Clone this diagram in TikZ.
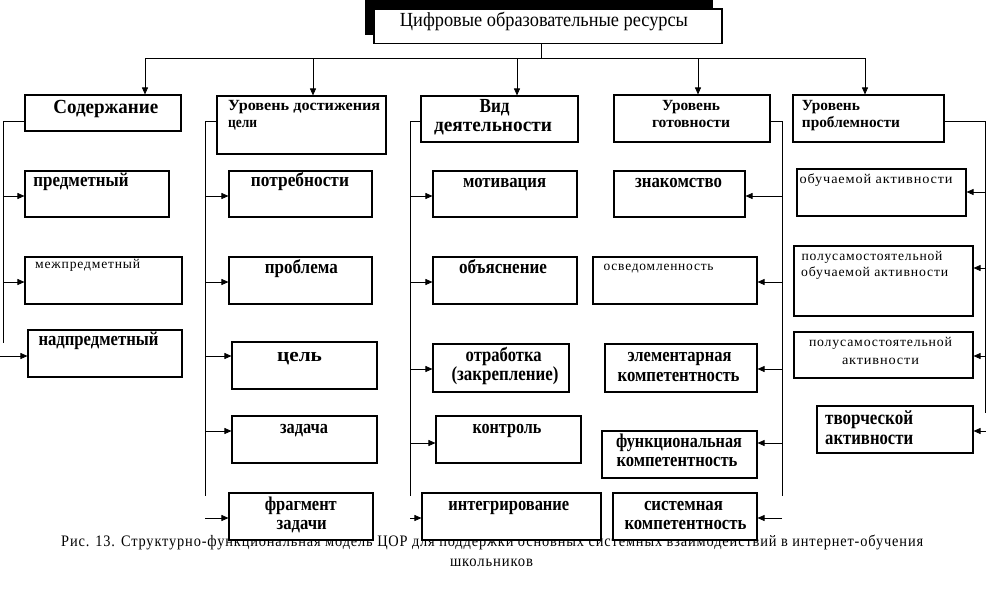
\documentclass[tikz,border=0pt]{standalone}
\usepackage{fontspec}
\setmainfont{Liberation Serif}
\newfontfamily\spcfont[LetterSpace=6]{Liberation Serif}
\usetikzlibrary{arrows.meta}
\newcommand\fitw[2]{\resizebox{#1pt}{\height}{#2}}
\newcommand\mkbox[5]{\node[rbox, minimum width={(#4-#2)*1pt}, minimum height={(#5-#3)*1pt}] (#1) at ({(#2+#4)/2},{(#3+#5)/2}) {};}
\begin{document}
\begin{tikzpicture}[x=1pt,y=-1pt,
  rbox/.style={draw, line width=1.1pt, fill=white, inner sep=0pt},
  conn/.style={line width=0.85pt},
  arr/.style={conn, -{Triangle[length=7pt,width=6pt]}},
  bt/.style={font=\fontsize{19.5}{21}\selectfont\bfseries, inner sep=0pt, anchor=base},
  btl/.style={bt, anchor=base west},
  bh/.style={font=\fontsize{20}{22}\selectfont\bfseries, inner sep=0pt, anchor=base},
  bhl/.style={bh, anchor=base west},
  bu/.style={font=\fontsize{15.5}{17}\selectfont\bfseries, inner sep=0pt, anchor=base},
  bul/.style={bu, anchor=base west},
  smt/.style={font=\fontsize{13.5}{15}\selectfont\spcfont, inner sep=0pt, anchor=base},
  smtl/.style={smt, anchor=base west},
  captx/.style={font=\fontsize{16}{18}\selectfont\spcfont, inner sep=0pt, anchor=base},
  ttl/.style={font=\fontsize{20}{22}\selectfont, inner sep=0pt, anchor=base}
]
\useasboundingbox (0,0) rectangle (986,614);
\fill[white] (0,0) rectangle (986,614);

% caption (under the boxes)
\node[captx, anchor=base west] (cap1) at (61,546.7) {\fitw{862}{Рис. 13. Структурно-функциональная модель ЦОР для поддержки основных системных взаимодействий в интернет-обучения}};
\node[captx] (cap2) at (491.5,566) {\fitw{83}{школьников}};

% title with shadow
\fill[black] (365,0) rectangle (713,35);
\mkbox{top}{374}{9}{722}{43.5}
\node[ttl] (ttitle) at (544,26) {\fitw{288}{Цифровые образовательные ресурсы}};

% headers
\mkbox{h1}{25}{95}{181}{131}
\mkbox{h2}{217}{96}{386}{154}
\mkbox{h3}{421}{96}{578}{142}
\mkbox{h4}{614}{95}{770}{142}
\mkbox{h5}{793}{95}{944}{142}

% top distribution
\coordinate (tj) at (541.7,58);
\coordinate (tl) at (145,58);
\coordinate (tr) at (865,58);
\coordinate (t2) at (313,58);
\coordinate (t3) at (517,58);
\coordinate (t4) at (698,58);
\draw[conn] (tj |- top.south) -- (tj);
\draw[conn] (tl) -- (tr);
\draw[arr] (tl) -- (tl |- h1.north);
\draw[arr] (t2) -- (t2 |- h2.north);
\draw[arr] (t3) -- (t3 |- h3.north);
\draw[arr] (t4) -- (t4 |- h4.north);
\draw[arr] (tr) -- (tr |- h5.north);

% column 1 boxes
\mkbox{a1}{25}{171}{169}{217}
\mkbox{a2}{25}{257}{182}{304}
\mkbox{a3}{28}{330}{182}{377}
% column 2
\mkbox{b1}{229}{171}{372}{217}
\mkbox{b2}{229}{257}{372}{304}
\mkbox{b3}{232}{342}{377}{389}
\mkbox{b4}{232}{416}{377}{463}
\mkbox{b5}{229}{493}{373}{540}
% column 3
\mkbox{c1}{433}{171}{577}{217}
\mkbox{c2}{433}{257}{577}{304}
\mkbox{c3}{433}{344}{569}{392}
\mkbox{c4}{436}{416}{581}{463}
\mkbox{c5}{422}{493}{601}{540}
% column 4
\mkbox{d1}{614}{171}{745}{217}
\mkbox{d2}{593}{257}{757}{304}
\mkbox{d3}{605}{344}{757}{392}
\mkbox{d4}{602}{431}{757}{478}
\mkbox{d5}{613}{493}{757}{540}
% column 5
\mkbox{e1}{797}{169}{966}{216}
\mkbox{e2}{794}{246}{973}{316}
\mkbox{e3}{794}{332}{973}{378}
\mkbox{e4}{817}{406}{973}{453}

% column 1 connectors
\coordinate (k1) at (3,121); \coordinate (k1e) at (3,343);
\draw[conn] (k1 -| h1.west) -- (k1) -- (k1e);
\coordinate (p11) at (3,196); \draw[arr] (p11) -- (p11 -| a1.west);
\coordinate (p12) at (3,282); \draw[arr] (p12) -- (p12 -| a2.west);
\coordinate (p13) at (0,356); \draw[arr] (p13) -- (p13 -| a3.west);
% column 2 connectors
\coordinate (k2) at (205,121); \coordinate (k2e) at (205,496);
\draw[conn] (k2 -| h2.west) -- (k2) -- (k2e);
\coordinate (p21) at (205,196); \draw[arr] (p21) -- (p21 -| b1.west);
\coordinate (p22) at (205,282); \draw[arr] (p22) -- (p22 -| b2.west);
\coordinate (p23) at (205,356); \draw[arr] (p23) -- (p23 -| b3.west);
\coordinate (p24) at (205,431); \draw[arr] (p24) -- (p24 -| b4.west);
\coordinate (p25) at (205,518); \draw[arr] (p25) -- (p25 -| b5.west);
% column 3 connectors
\coordinate (k3) at (410,121); \coordinate (k3e) at (410,496);
\draw[conn] (k3 -| h3.west) -- (k3) -- (k3e);
\coordinate (p31) at (410,196); \draw[arr] (p31) -- (p31 -| c1.west);
\coordinate (p32) at (410,282); \draw[arr] (p32) -- (p32 -| c2.west);
\coordinate (p33) at (410,369); \draw[arr] (p33) -- (p33 -| c3.west);
\coordinate (p34) at (410,443); \draw[arr] (p34) -- (p34 -| c4.west);
\coordinate (p35) at (410,518); \draw[arr] (p35) -- (p35 -| c5.west);
% column 4 connectors
\coordinate (k4) at (782,121); \coordinate (k4e) at (782,496);
\draw[conn] (k4 -| h4.east) -- (k4) -- (k4e);
\coordinate (p41) at (782,196); \draw[arr] (p41) -- (p41 -| d1.east);
\coordinate (p42) at (782,282); \draw[arr] (p42) -- (p42 -| d2.east);
\coordinate (p43) at (782,369); \draw[arr] (p43) -- (p43 -| d3.east);
\coordinate (p44) at (782,443); \draw[arr] (p44) -- (p44 -| d4.east);
\coordinate (p45) at (782,518); \draw[arr] (p45) -- (p45 -| d5.east);
% column 5 connectors
\coordinate (k5) at (985,121); \coordinate (k5e) at (985,413);
\draw[conn] (k5 -| h5.east) -- (k5) -- (k5e);
\coordinate (p51) at (985,192); \draw[arr] (p51) -- (p51 -| e1.east);
\coordinate (p52) at (985,268); \draw[arr] (p52) -- (p52 -| e2.east);
\coordinate (p53) at (985,356); \draw[arr] (p53) -- (p53 -| e3.east);
\coordinate (p54) at (986,431); \draw[arr] (p54) -- (p54 -| e4.east);

% header texts
\node[bh] (th1) at (105.8,113.5) {\fitw{105}{Содержание}};
\node[bul] (th2a) at (228,110) {\fitw{152}{Уровень достижения}};
\node[bul] (th2b) at (228,127.5) {\fitw{29}{цели}};
\node[bh] (th3a) at (494.6,112.7) {\fitw{30}{Вид}};
\node[bh] (th3b) at (493,131.7) {\fitw{118}{деятельности}};
\node[bu] (th4a) at (691,110) {\fitw{58}{Уровень}};
\node[bu] (th4b) at (691,127.3) {\fitw{78}{готовности}};
\node[bul] (th5a) at (801.7,110) {\fitw{58}{Уровень}};
\node[bul] (th5b) at (801.7,127.3) {\fitw{98}{проблемности}};

% column 1 texts
\node[btl] (ta1) at (33.3,186.7) {\fitw{95}{предметный}};
\node[smtl] (ta2) at (35,268.3) {\fitw{105}{межпредметный}};
\node[btl] (ta3) at (38.3,345) {\fitw{120}{надпредметный}};
% column 2 texts
\node[bt] (tb1) at (300,186.7) {\fitw{98}{потребности}};
\node[bt] (tb2) at (301.3,273.3) {\fitw{73}{проблема}};
\node[bt] (tb3) at (299.5,361) {\fitw{45}{цель}};
\node[bt] (tb4) at (304,433.3) {\fitw{48}{задача}};
\node[bt] (tb5a) at (300.8,510) {\fitw{72}{фрагмент}};
\node[bt] (tb5b) at (301.7,529.3) {\fitw{50}{задачи}};
% column 3 texts
\node[bt] (tc1) at (504.6,187.7) {\fitw{83}{мотивация}};
\node[bt] (tc2) at (503,273.3) {\fitw{88}{объяснение}};
\node[bh] (tc3a) at (503.7,361) {\fitw{76}{отработка}};
\node[bh] (tc3b) at (505,380) {\fitw{107}{(закрепление)}};
\node[bt] (tc4) at (507,433.3) {\fitw{69}{контроль}};
\node[bt] (tc5) at (508.8,510) {\fitw{121}{интегрирование}};
% column 4 texts
\node[bt] (td1) at (678.6,187.7) {\fitw{87}{знакомство}};
\node[smtl] (td2) at (603.4,270) {\fitw{110}{осведомленность}};
\node[bt] (td3a) at (679.6,361) {\fitw{104}{элементарная}};
\node[bt] (td3b) at (678.6,381) {\fitw{122}{компетентность}};
\node[bt] (td4a) at (679,447.3) {\fitw{126}{функциональная}};
\node[bt] (td4b) at (677,466.7) {\fitw{121}{компетентность}};
\node[bt] (td5a) at (683.5,510) {\fitw{79}{системная}};
\node[bt] (td5b) at (685.5,529.3) {\fitw{122}{компетентность}};
% column 5 texts
\node[smtl] (te1) at (799.4,183.3) {\fitw{153}{обучаемой активности}};
\node[smtl] (te2a) at (801.3,260) {\fitw{141}{полусамостоятельной}};
\node[smtl] (te2b) at (801,276.7) {\fitw{147}{обучаемой активности}};
\node[smt] (te3a) at (880.5,346.7) {\fitw{143}{полусамостоятельной}};
\node[smt] (te3b) at (880.5,364.3) {\fitw{77}{активности}};
\node[bhl] (te4a) at (825,424) {\fitw{88}{творческой}};
\node[bhl] (te4b) at (825,444) {\fitw{88}{активности}};
\end{tikzpicture}
\end{document}
